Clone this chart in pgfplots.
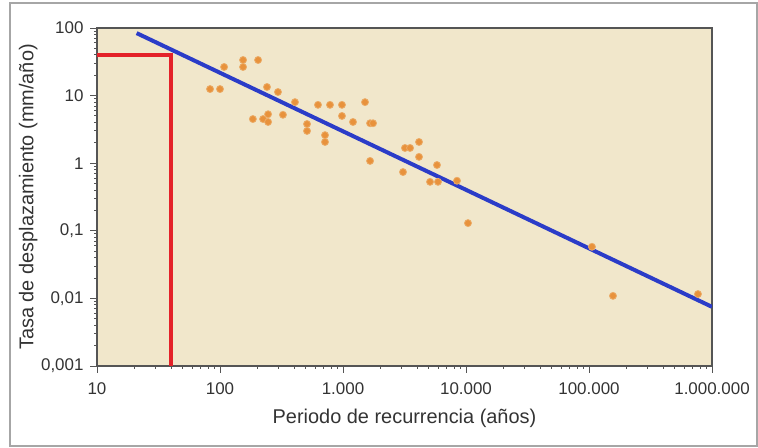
\documentclass[border=0pt]{standalone}
\usepackage{pgfplots}
\pgfplotsset{compat=1.18}
\usepackage{fontspec}
\setmainfont{Liberation Sans}
\definecolor{bgbeige}{HTML}{F1E7CB}
\definecolor{dotorange}{HTML}{E8923C}
\definecolor{fitblue}{HTML}{2B3CC8}
\definecolor{markred}{HTML}{E42229}
\definecolor{axgray}{HTML}{555555}
\definecolor{txtgray}{HTML}{333333}

\begin{document}
\begin{tikzpicture}
\begin{axis}[
    name=ax,
    scale only axis,
    width=615bp, height=338bp,
    xmode=log, ymode=log,
    xmin=10, xmax=1000000,
    ymin=0.001, ymax=100,
    axis background/.style={fill=bgbeige},
    axis line style={axgray, line width=1.3pt},
    tick style={axgray, line width=1pt},
    tick align=outside,
    xtick pos=bottom, ytick pos=left,
    major tick length=7bp,
    minor tick num=0,
    xtick={10,100,1000,10000,100000,1000000},
    xticklabels={10,100,1.000,10.000,100.000,1.000.000},
    ytick={0.001,0.01,0.1,1,10,100},
    yticklabels={{0,001},{0,01},{0,1},1,10,100},
    ticklabel style={font=\fontsize{17}{17}\selectfont, text=txtgray},
    xticklabel style={yshift=-6bp},
    yticklabel style={xshift=-3bp},
    /pgf/number format/assume math mode=true,
    xlabel={Periodo de recurrencia (años)},
    ylabel={Tasa de desplazamiento (mm/año)},
    label style={font=\fontsize{20}{20}\selectfont, text=txtgray},
    xlabel style={at={(axis description cs:0.5,-0.154)}, anchor=center},
    ylabel style={at={(axis description cs:-0.112,0.5)}, anchor=center},
    every axis plot/.append style={line cap=butt},
]
% red reading lines
\addplot[markred, line width=4bp] coordinates {
    (10,40) (40,40) (40,0.001)
};
% data points
\addplot[only marks, mark=*, mark size=3.5bp,
    mark options={fill=dotorange, draw=dotorange!70!bgbeige, line width=0.8pt}] coordinates {
    (83,12.5) (100,12.5)
    (108,26.5) (154,33.6) (154,26.5) (204,33.6)
    (241,13.4) (296,11.3)
    (185,4.5) (224,4.5) (246,5.3) (246,4.07) (325,5.2)
    (407,8.0) (510,3.8) (510,3.0)
    (626,7.3) (784,7.3) (981,7.3) (981,5.0)
    (714,2.6) (714,2.06)
    (1206,4.07) (1510,8.0) (1660,3.9) (1755,3.9) (1660,1.08)
    (3190,1.68) (3510,1.68) (4150,2.06) (4150,1.24)
    (3075,0.74) (5810,0.94) (5100,0.53) (5920,0.53) (8450,0.55)
    (10380,0.13) (105700,0.058) (156700,0.0109) (769000,0.0116)
};
% regression line
\addplot[fitblue, line width=4bp] coordinates {
    (21,84) (1000000,0.0075)
};
\end{axis}
\draw[gray!70, line width=1.5pt] (ax.south west) ++(-87bp,-80bp) rectangle ([shift={(45bp,25bp)}]ax.north east);
\path (ax.south west) ++(-97bp,-82bp);
\path (ax.north east) ++(46bp,28bp);
\end{tikzpicture}
\end{document}
